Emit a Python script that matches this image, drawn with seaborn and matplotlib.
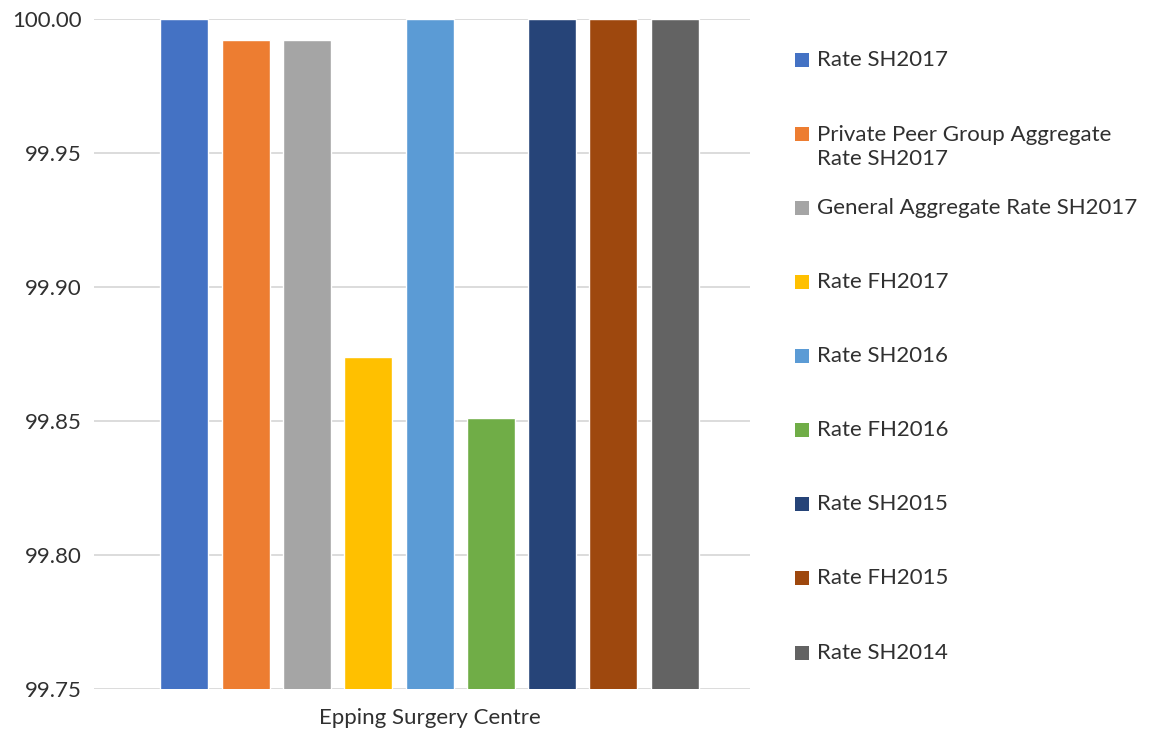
import pandas as pd
import seaborn as sns
import matplotlib.pyplot as plt
from matplotlib.patches import Rectangle
from matplotlib.ticker import FormatStrFormatter

# data
category = "Epping Surgery Centre"
series = [
    "Rate SH2017",
    "Private Peer Group Aggregate\nRate SH2017",
    "General Aggregate Rate SH2017",
    "Rate FH2017",
    "Rate SH2016",
    "Rate FH2016",
    "Rate SH2015",
    "Rate FH2015",
    "Rate SH2014",
]
values = [100.0, 99.992, 99.992, 99.874, 100.0, 99.851, 100.0, 100.0, 100.0]
colors = ["#4472c4", "#ed7d31", "#a5a5a5", "#ffc000", "#5b9bd5",
          "#70ad47", "#264478", "#9e480e", "#636363"]

df = pd.DataFrame({"group": [category] * len(series), "series": series, "value": values})

W, H = 1160, 735
text_color = "#303030"

sns.set_style("white")
plt.rcParams["font.family"] = ["Lato", "DejaVu Sans"]

fig = plt.figure(figsize=(W / 100, H / 100), dpi=100)
ax = fig.add_axes([94 / W, 1 - 689 / H, 656 / W, (689 - 19) / H])

sns.barplot(data=df, x="group", y="value", hue="series", hue_order=series,
            palette=colors, width=0.84, gap=0.218, ax=ax, legend=False,
            saturation=1)

ax.set_ylim(99.75, 100.0)
ax.set_xlim(-0.511, 0.488)
ax.set_yticks([99.75, 99.80, 99.85, 99.90, 99.95, 100.0])
ax.yaxis.set_major_formatter(FormatStrFormatter("%.2f"))
ax.grid(axis="y", color="#d9d9d9", linewidth=1.3)
ax.set_axisbelow(True)
for s in ax.spines.values():
    s.set_visible(False)
ax.tick_params(axis="y", length=0, labelsize=16, labelcolor=text_color, pad=9)
ax.tick_params(axis="x", length=0, labelsize=16, labelcolor=text_color, pad=14)
ax.set_xlabel("")
ax.set_ylabel("")

# legend drawn by hand, Excel spaces the wrapped entry unevenly
legend_y = [60, 147, 208, 282, 356, 430, 504, 578, 653]
for label, col, y in zip(series, colors, legend_y):
    sy = y - 13 if "\n" in label else y
    fig.patches.append(Rectangle((795 / W, 1 - (sy + 7) / H), 14 / W, 14 / H,
                                 transform=fig.transFigure, facecolor=col,
                                 edgecolor="none"))
    fig.text(817 / W, 1 - y / H, label, fontsize=16, color=text_color,
             va="center", ha="left", linespacing=1.2)

fig.savefig("out.png", dpi=100)
